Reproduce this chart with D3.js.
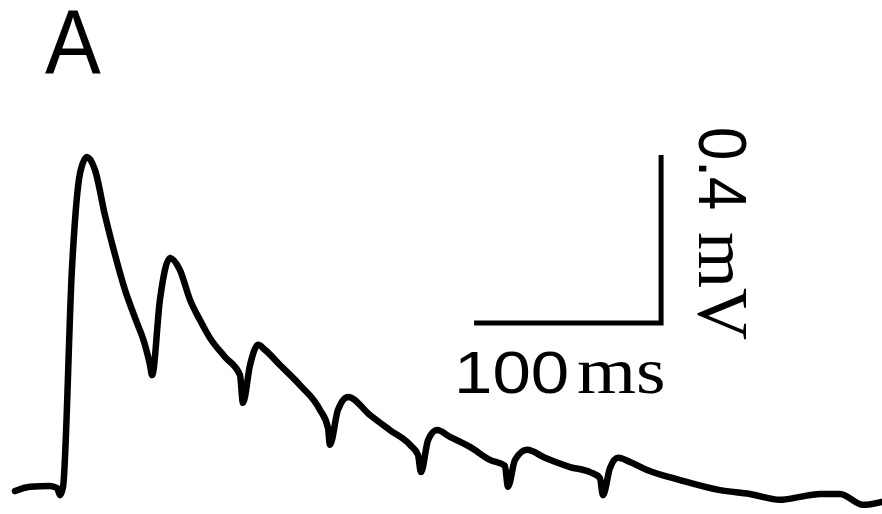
<!DOCTYPE html>
<html>
<head>
<meta charset="utf-8">
<script src="https://cdn.jsdelivr.net/npm/d3@7"></script>
<style>
  html, body { margin: 0; padding: 0; background: #fff; }
  svg { display: block; }
</style>
</head>
<body>
<div id="chart"></div>
<script>
// trace samples: time (ms) and membrane potential (mV)
const timeMs = [0, 8.0, 18.7, 22.5, 24.1, 25.7, 30.5, 34.8, 38.5, 42.8, 48.1, 53.5, 58.8, 64.2, 69.5, 72.2, 73.3,
  77.5, 82.9, 88.2, 93.6, 98.9, 104.3, 112.3, 120.3, 121.9, 125.7, 130.0, 133.7, 141.7, 152.4, 163.1, 167.4, 168.4,
  172.7, 178.1, 189.8, 200.5, 211.2, 215.5, 217.1, 220.9, 225.7, 232.6, 243.3, 254.0, 262.0, 263.6, 267.4, 273.8,
  283.4, 296.8, 307.5, 312.8, 314.4, 318.2, 322.5, 328.9, 338.0, 355.6, 377.0, 393.0, 409.1, 419.8, 430.5, 441.2,
  453.5, 463.6];
const voltMv = [0.00, 0.010, 0.012, 0.007, -0.010, 0.010, 0.533, 0.757, 0.795, 0.764, 0.657, 0.562, 0.479, 0.412, 0.348, 0.300, 0.276,
  0.455, 0.555, 0.526, 0.455, 0.407, 0.364, 0.319, 0.276, 0.210, 0.300, 0.348, 0.336, 0.300, 0.252, 0.193, 0.150, 0.110,
  0.193, 0.224, 0.181, 0.145, 0.110, 0.086, 0.045, 0.121, 0.145, 0.129, 0.105, 0.074, 0.060, 0.010, 0.074, 0.098,
  0.079, 0.057, 0.045, 0.031, -0.010, 0.055, 0.079, 0.069, 0.050, 0.026, 0.002, -0.007, -0.021, -0.014, -0.007, -0.007,
  -0.033, -0.026];

// scale bars
const barTimeMs = [245.5, 345.5];   // 100 ms
const barVoltMv = [0.4, 0.8];       // 0.4 mV
const panelLabel = "A";

const width = 882, height = 514;
const sans = "Liberation Sans, Arial, sans-serif";
const serif = "Liberation Serif, Times New Roman, serif";

const svg = d3.select("#chart")
  .append("svg")
  .attr("width", width)
  .attr("height", height);

// 100 ms = 187 px, 0.4 mV = 168 px
const x = d3.scaleLinear().domain([0, 100]).range([15, 202]);
const y = d3.scaleLinear().domain([0, 0.4]).range([491, 323]);

const data = timeMs.map((t, i) => ({ t, v: voltMv[i] }));

const line = d3.line()
  .x((d) => x(d.t))
  .y((d) => y(d.v))
  .curve(d3.curveMonotoneX);

svg.append("path")
  .datum(data)
  .attr("d", line)
  .attr("fill", "none")
  .attr("stroke", "#000")
  .attr("stroke-width", 6.5)
  .attr("stroke-linejoin", "round")
  .attr("stroke-linecap", "round");

// scale bar (L shape)
svg.append("path")
  .attr("d", `M${x(barTimeMs[0])},${y(barVoltMv[0])}H${x(barTimeMs[1])}V${y(barVoltMv[1])}`)
  .attr("fill", "none")
  .attr("stroke", "#000")
  .attr("stroke-width", 5);

// horizontal bar label
const hLab = svg.append("g")
  .attr("transform", `translate(${x(barTimeMs[0]) - 20},${y(barVoltMv[0]) + 70})`);
hLab.append("text")
  .attr("transform", "scale(1.15,1)")
  .attr("font-family", sans)
  .attr("font-size", 60)
  .text("100");
hLab.append("text")
  .attr("transform", "translate(123,0) scale(1.15,1)")
  .attr("font-family", serif)
  .attr("font-size", 66)
  .text("ms");

// vertical bar label, rotated
const vLab = svg.append("g")
  .attr("transform", `translate(${x(barTimeMs[1]) + 38},${y(barVoltMv[1]) - 28}) rotate(90)`);
vLab.append("text")
  .attr("transform", "scale(1,1.15)")
  .attr("font-family", sans)
  .attr("font-size", 60)
  .text("0.4");
vLab.append("text")
  .attr("x", 105)
  .attr("font-family", serif)
  .attr("font-size", 72)
  .text("mV");

// panel label
svg.append("text")
  .attr("transform", "translate(45,73) scale(0.93,1)")
  .attr("font-family", sans)
  .attr("font-size", 90)
  .attr("fill", "#000")
  .text(panelLabel);
</script>
</body>
</html>
